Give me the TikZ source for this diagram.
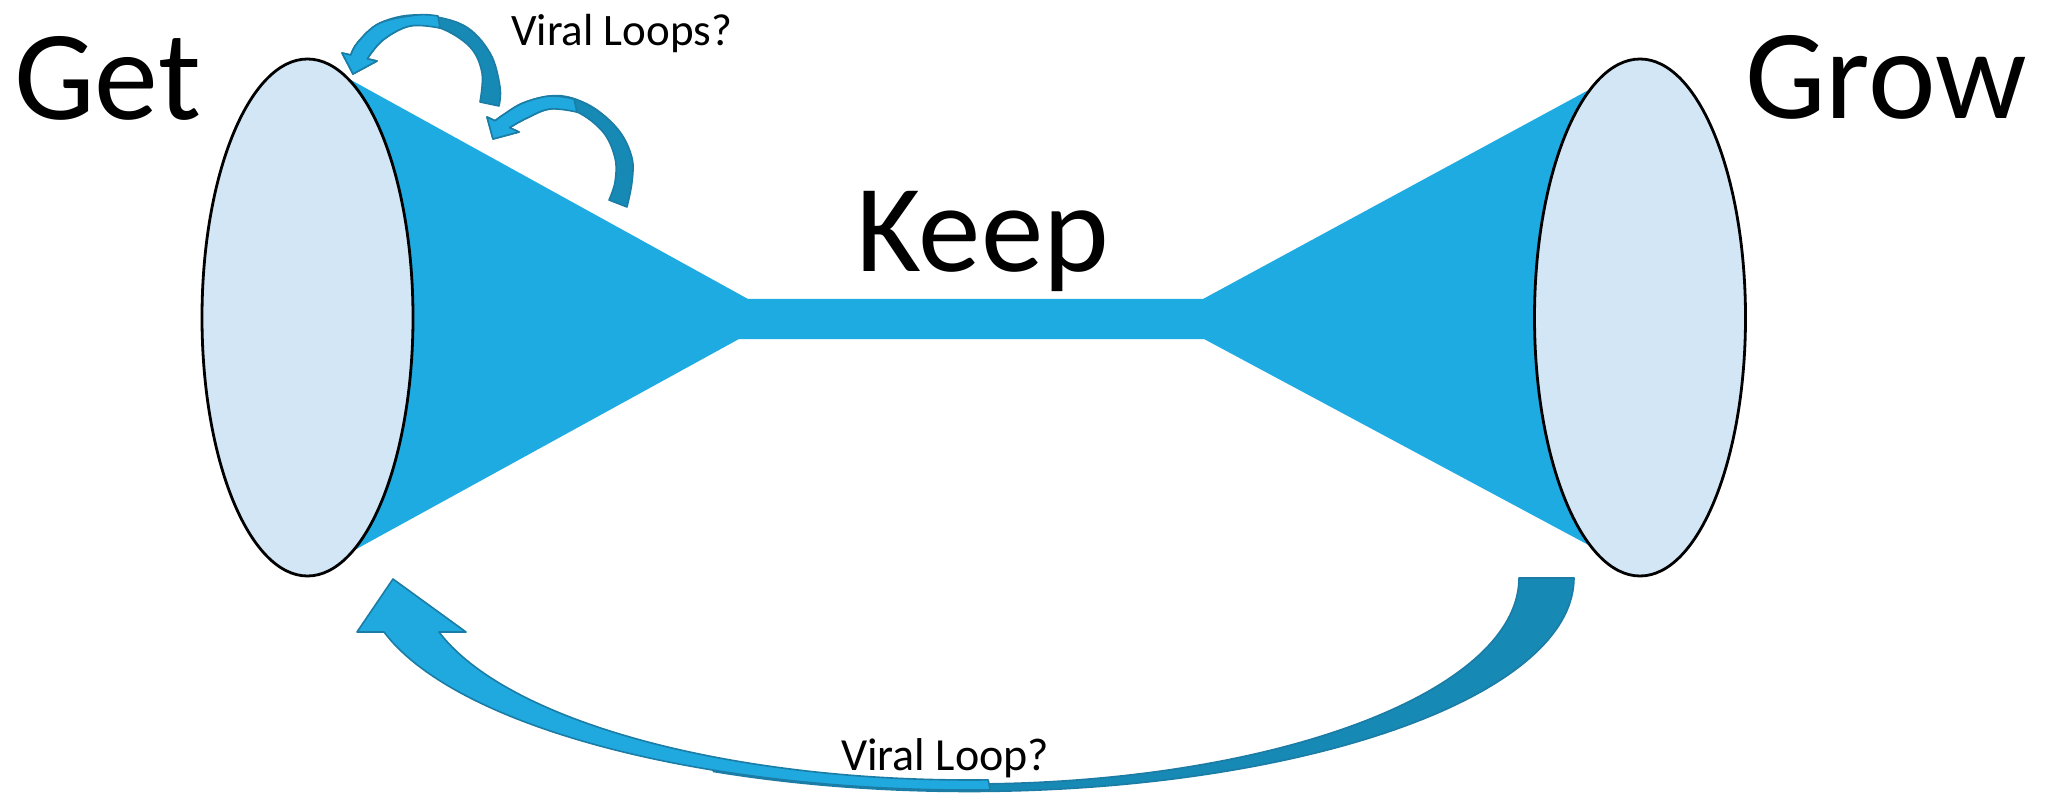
\documentclass[tikz,border=0pt]{standalone}
\usepackage{fontspec}
\setmainfont{Carlito}
\usetikzlibrary{shapes.geometric}
\definecolor{funnelblue}{HTML}{1EABE2}
\definecolor{mouthfill}{HTML}{D2E6F5}
\definecolor{arrowlight}{HTML}{1FA9DF}
\definecolor{arrowdark}{HTML}{1789B5}
\definecolor{arrowedge}{HTML}{1B7CA5}
\begin{document}
\begin{tikzpicture}[x=1pt,y=-1pt,
  mouth/.style={ellipse, draw=black, line width=2.8pt, fill=mouthfill,
    minimum width=211pt, minimum height=517pt, inner sep=0pt},
  stage/.style={anchor=base west, inner sep=0pt, font=\fontsize{128}{128}\selectfont},
  note/.style={anchor=base west, inner sep=0pt, font=\fontsize{45}{45}\selectfont},
  loopfront/.style={fill=arrowlight, draw=arrowedge, line width=1.6pt, line join=round},
  loopback/.style={fill=arrowdark, draw=arrowedge, line width=1.6pt, line join=round},
]
\useasboundingbox (0,0) rectangle (2048,794);

% funnel body: two cones joined by a narrow bar
\fill[funnelblue] (351,80) -- (748,299) -- (1203,299) -- (1596,86) -- (1640,317)
  -- (1596,549) -- (1204,339) -- (739,339) -- (340,558) -- (307,317) -- cycle;

% the two open mouths
\node[mouth] (getmouth) at (307.5,317.5) {};
\node[mouth] (growmouth) at (1640,317.5) {};

% first small loop arrow: back face, then front face with head
\filldraw[loopback] (480,102) -- (499,106) -- plot[smooth, tension=0.6] coordinates
  {(499,106) (500,87) (490,53) (463,25) (417,15) (380,23) (358,42) (350.8,55)}
  -- (342,53) -- (353,74) -- (377,61) -- (367.3,58.8) -- plot[smooth, tension=0.6] coordinates
  {(367.3,58.8) (383,40) (410,26) (440,28) (470,47) (482,73) (480,102)} -- cycle;
\filldraw[loopfront] (438,16) -- plot[smooth, tension=0.6] coordinates
  {(438,16) (417,15) (380,23) (358,42) (350.8,55)}
  -- (342,53) -- (353,74) -- (377,61) -- (367.3,58.8) -- plot[smooth, tension=0.6] coordinates
  {(367.3,58.8) (383,40) (410,26) (440,28)} -- cycle;

% second small loop arrow
\filldraw[loopback] (609,200) -- (627,207) -- plot[smooth, tension=0.6] coordinates
  {(627,207) (632,182) (632,158) (620,132) (597,110) (572,98) (550,96) (523,103) (503,115) (495.2,120.8)}
  -- (487,117) -- (493,139) -- (519,132) -- (509.6,127.6) -- plot[smooth, tension=0.6] coordinates
  {(509.6,127.6) (527,118) (550,109) (577,112) (603,132) (615,158) (615,182) (609,200)} -- cycle;
\filldraw[loopfront] (574,99) -- plot[smooth, tension=0.6] coordinates
  {(574,99) (550,96) (523,103) (503,115) (495.2,120.8)}
  -- (487,117) -- (493,139) -- (519,132) -- (509.6,127.6) -- plot[smooth, tension=0.6] coordinates
  {(509.6,127.6) (527,118) (550,109) (577,112)} -- cycle;

% large loop arrow from the right mouth back to the left mouth
\filldraw[loopback] plot[domain=360:245, samples=90] ({969+605*cos(\x)}, {578-213.5*sin(\x)})
  -- plot[domain=245:360, samples=90] ({969+550*cos(\x)}, {578-206*sin(\x)}) -- cycle;
\filldraw[loopfront] plot[domain=194.76:272, samples=90] ({969+605*cos(\x)}, {578-212*sin(\x)})
  -- plot[domain=272:195.5, samples=90] ({969+550*cos(\x)}, {578-202*sin(\x)})
  -- (466,632) -- (393,579) -- (357,632) -- cycle;

% labels
\node[stage] (get) at (14,120) {Get};
\node[stage] (grow) at (1745,119) {Grow};
\node[stage, font=\fontsize{125}{125}\selectfont] (keep) at (856,272) {Keep};
\node[note] (loops) at (511,46) {Viral Loops?};
\node[note, font=\fontsize{46}{46}\selectfont] (loop) at (841,770) {Viral Loop?};
\end{tikzpicture}
\end{document}
